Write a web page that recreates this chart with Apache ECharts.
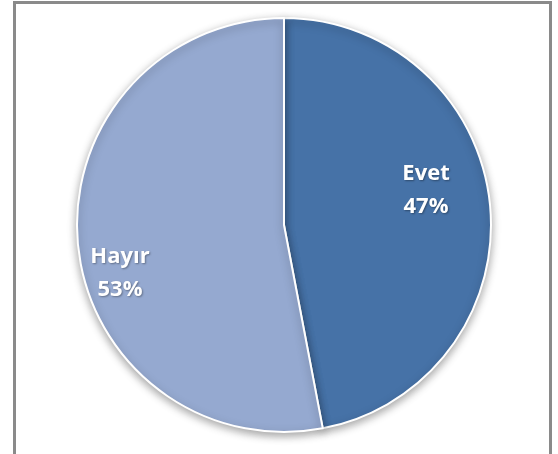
<!DOCTYPE html>
<html>
<head>
<meta charset="utf-8">
<script src="https://cdn.jsdelivr.net/npm/echarts@6/dist/echarts.min.js"></script>
<style>html,body{margin:0;padding:0;background:#fff}#c{width:558px;height:454px}</style>
</head>
<body>
<div id="c"></div>
<script>
var categories = ['Evet', 'Hayır'];
var values = [47, 53];
var colors = ['#4672A7', '#95A9D0'];
var labelShift = [[36, -25], [-58, 38]];

var chart = echarts.init(document.getElementById('c'), null, {renderer: 'canvas'});
chart.setOption({
  animation: false,
  backgroundColor: '#ffffff',
  graphic: [{
    type: 'rect', silent: true, z: 100,
    shape: {x: 14.5, y: 2.5, width: 536, height: 520},
    style: {fill: 'none', stroke: '#8a8a8a', lineWidth: 3}
  }],
  series: [{
    type: 'pie',
    center: [284, 225],
    radius: [0, 207],
    startAngle: 90,
    clockwise: true,
    data: categories.map(function (n, i) {
      return {name: n, value: values[i], itemStyle: {color: colors[i]}};
    }),
    itemStyle: {
      borderColor: '#ffffff', borderWidth: 2,
      shadowBlur: 8, shadowOffsetY: 3, shadowColor: 'rgba(0,0,0,0.35)'
    },
    label: {
      show: true, position: 'inside',
      formatter: function (p) { return p.name + '\n' + p.value + '%'; },
      color: '#ffffff', fontFamily: 'Open Sans', fontWeight: 'bold', fontSize: 22,
      lineHeight: 33,
      textShadowColor: 'rgba(0,0,0,0.35)', textShadowBlur: 2, textShadowOffsetX: 1, textShadowOffsetY: 1
    },
    labelLayout: function (p) {
      return {dx: labelShift[p.dataIndex][0], dy: labelShift[p.dataIndex][1]};
    },
    emphasis: {disabled: true}
  }]
});
</script>
</body>
</html>
